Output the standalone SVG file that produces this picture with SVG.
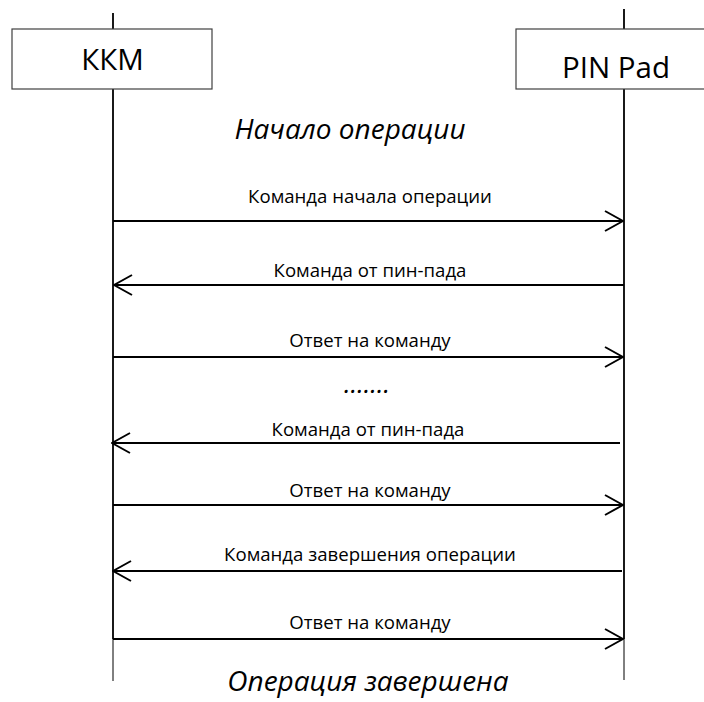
<svg xmlns="http://www.w3.org/2000/svg" width="704" height="702" viewBox="0 0 704 702">
<style>
.box{fill:#fff;stroke:#404040;stroke-width:1.2}
.hdr{font-family:"Open Sans","Noto Sans",sans-serif;font-size:29.5px;fill:#000;text-anchor:middle}
.ital{font-family:"Open Sans","Noto Sans",sans-serif;font-style:italic;font-size:28px;fill:#000;text-anchor:middle}
.dots{font-family:"Open Sans","Noto Sans",sans-serif;font-style:italic;font-size:26px;fill:#000;text-anchor:middle}
.lbl{font-family:"Open Sans","Noto Sans",sans-serif;font-size:18.6px;fill:#000;text-anchor:middle}
.life{stroke:#000;stroke-width:1.8;fill:none}
.lifet{stroke:#000;stroke-width:1;fill:none}
.msg{stroke:#000;stroke-width:2;fill:none}
</style>
<defs>
<marker id="ah" viewBox="0 0 20 22" refX="19" refY="11" markerWidth="20" markerHeight="22" markerUnits="userSpaceOnUse" orient="auto">
<path d="M1,1 L19,11 L1,21" fill="none" stroke="#000" stroke-width="2"/>
</marker>
</defs>
<g id="lifelines">
<path class="life" d="M113,13 V639"/>
<path class="lifet" d="M113,639 V681"/>
<path class="life" d="M624,9 V639"/>
<path class="lifet" d="M624,639 V680"/>
</g>
<g id="kkm">
<rect class="box" x="12" y="29" width="200" height="60"/>
<text class="hdr" x="112.5" y="70">ККМ</text>
</g>
<g id="pinpad">
<rect class="box" x="516" y="29" width="200" height="60"/>
<text class="hdr" x="616" y="78">PIN Pad</text>
</g>
<g id="start">
<text class="ital" x="350" y="139">Начало операции</text>
</g>
<g id="connectors">
<line class="msg" x1="113" y1="221" x2="623" y2="221" marker-end="url(#ah)"/>
<text class="lbl" x="370" y="203">Команда начала операции</text>
<line class="msg" x1="624" y1="285" x2="114" y2="285" marker-end="url(#ah)"/>
<text class="lbl" x="370" y="277">Команда от пин-пада</text>
<line class="msg" x1="113" y1="357" x2="623" y2="357" marker-end="url(#ah)"/>
<text class="lbl" x="370" y="347">Ответ на команду</text>
<line class="msg" x1="620" y1="443" x2="112" y2="443" marker-end="url(#ah)"/>
<text class="lbl" x="368" y="436">Команда от пин-пада</text>
<line class="msg" x1="113" y1="505" x2="623" y2="505" marker-end="url(#ah)"/>
<text class="lbl" x="370" y="497">Ответ на команду</text>
<line class="msg" x1="622" y1="571" x2="113" y2="571" marker-end="url(#ah)"/>
<text class="lbl" x="370" y="561">Команда завершения операции</text>
<line class="msg" x1="113" y1="639" x2="623" y2="639" marker-end="url(#ah)"/>
<text class="lbl" x="370" y="629">Ответ на команду</text>
</g>
<g id="dots-row">
<text class="dots" x="367" y="393">…….</text>
</g>
<g id="end">
<text class="ital" x="368" y="691">Операция завершена</text>
</g>
</svg>
